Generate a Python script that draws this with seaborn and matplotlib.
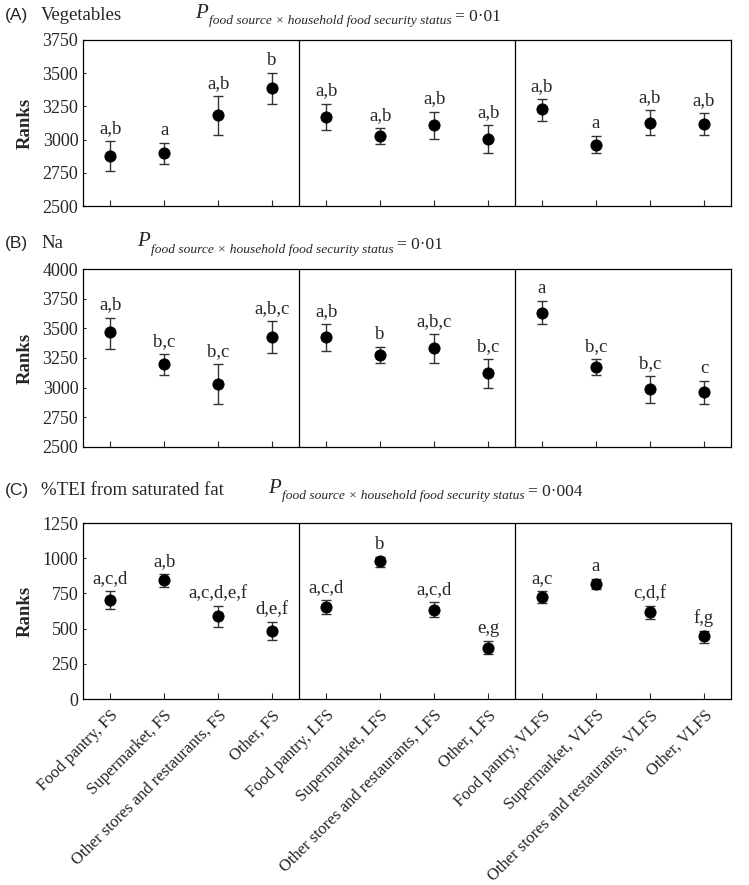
import numpy as np
import pandas as pd
import matplotlib
matplotlib.use('Agg')
import matplotlib.pyplot as plt
import seaborn as sns

categories = ['Food pantry, FS', 'Supermarket, FS', 'Other stores and restaurants, FS', 'Other, FS',
              'Food pantry, LFS', 'Supermarket, LFS', 'Other stores and restaurants, LFS', 'Other, LFS',
              'Food pantry, VLFS', 'Supermarket, VLFS', 'Other stores and restaurants, VLFS', 'Other, VLFS']

# (A) Vegetables
veg_mean = [2880, 2902, 3185, 3390, 3172, 3030, 3112, 3002, 3228, 2962, 3128, 3118]
veg_low = [2765, 2818, 3035, 3270, 3071, 2967, 3005, 2899, 3141, 2899, 3035, 3035]
veg_high = [2990, 2972, 3328, 3502, 3270, 3087, 3210, 3110, 3305, 3025, 3222, 3202]
veg_letters = ['a,b', 'a', 'a,b', 'b', 'a,b', 'a,b', 'a,b', 'a,b', 'a,b', 'a', 'a,b', 'a,b']

# (B) Na
na_mean = [3465, 3200, 3029, 3426, 3426, 3278, 3331, 3124, 3633, 3172, 2987, 2962]
na_low = [3328, 3104, 2858, 3295, 3311, 3208, 3208, 2998, 3535, 3104, 2872, 2864]
na_high = [3591, 3285, 3200, 3563, 3535, 3342, 3451, 3242, 3729, 3242, 3099, 3057]
na_letters = ['a,b', 'b,c', 'b,c', 'a,b,c', 'a,b', 'b', 'a,b,c', 'b,c', 'a', 'b,c', 'b,c', 'c']

# (C) %TEI from saturated fat
sfa_mean = [705, 845, 587, 485, 656, 978, 635, 365, 727, 817, 616, 445]
sfa_low = [639, 795, 511, 423, 604, 938, 582, 320, 682, 781, 566, 402]
sfa_high = [765, 888, 661, 549, 703, 1009, 689, 415, 769, 852, 661, 485]
sfa_letters = ['a,c,d', 'a,b', 'a,c,d,e,f', 'd,e,f', 'a,c,d', 'b', 'a,c,d', 'e,g', 'a,c', 'a', 'c,d,f', 'f,g']

panels = [
    ('(A)', 'Vegetables', '0·01', veg_mean, veg_low, veg_high, veg_letters, (2500, 3750), [2500, 2750, 3000, 3250, 3500, 3750]),
    ('(B)', 'Na', '0·01', na_mean, na_low, na_high, na_letters, (2500, 4000), [2500, 2750, 3000, 3250, 3500, 3750, 4000]),
    ('(C)', '%TEI from saturated fat', '0·004', sfa_mean, sfa_low, sfa_high, sfa_letters, (0, 1250), [0, 250, 500, 750, 1000, 1250]),
]

sns.set_style('ticks')
plt.rcParams['font.family'] = ['Liberation Serif', 'DejaVu Serif']
plt.rcParams['font.size'] = 12

fig = plt.figure(figsize=(7.49, 8.85), dpi=100)
renderer = fig.canvas.get_renderer()
boxes = [(0.111, 0.767, 0.865, 0.188), (0.111, 0.495, 0.865, 0.201), (0.111, 0.210, 0.865, 0.199)]
ptext_x = [0.260, 0.183, 0.358]
title_y = [0.983, 0.725, 0.446]
sub = 'food source \u00d7 household food security status'

for i, (tag, name, pval, mean, low, high, letters, ylim, yticks) in enumerate(panels):
    ax = fig.add_axes(boxes[i])
    df = pd.DataFrame({'cat': categories, 'mean': mean, 'low': low, 'high': high, 'lab': letters})
    x = np.arange(len(df))
    ax.errorbar(x, df['mean'], yerr=[df['mean'] - df['low'], df['high'] - df['mean']],
                fmt='none', ecolor='#333333', elinewidth=1, capsize=3.5, capthick=1, zorder=2)
    sns.scatterplot(x=x, y=df['mean'], ax=ax, color='black', s=65, edgecolor='black', zorder=3, legend=False)
    for xi, hi, lab in zip(x, df['high'], df['lab']):
        ax.annotate(lab, (xi, hi), xytext=(0, 3), textcoords='offset points',
                    ha='center', va='bottom', fontsize=13.5)
    for sep in [3.5, 7.5]:
        ax.axvline(sep, color='black', lw=0.9)
    ax.set_xlim(-0.5, 11.5)
    ax.set_ylim(*ylim)
    ax.set_yticks(yticks)
    ax.set_xticks(x)
    ax.tick_params(axis='x', direction='in', length=4, width=0.8, pad=6)
    ax.tick_params(axis='y', direction='in', length=2, width=0.8, labelsize=13)
    for s in ax.spines.values():
        s.set_linewidth(0.9)
        s.set_color('black')
    ax.set_ylabel('Ranks', fontsize=13.5, fontweight='bold', labelpad=6)
    ax.set_xlabel('')
    if i < 2:
        ax.set_xticklabels([])
    else:
        ax.set_xticklabels(categories, rotation=45, ha='right', rotation_mode='anchor', fontsize=12)

    ty = title_y[i]
    fig.text(0.007, ty, tag, fontsize=12.5, family='Liberation Sans', va='center')
    fig.text(0.055, ty, name, fontsize=13.5, va='center')
    # P with subscript and p-value, laid out piece by piece
    tp = fig.text(ptext_x[i], ty + 0.002, 'P', fontsize=15, style='italic', va='center')
    bb = tp.get_window_extent(renderer)
    x1 = bb.x1 / fig.bbox.width + 0.002
    ts = fig.text(x1, ty - 0.007, sub, fontsize=9.7, style='italic', va='center')
    bb = ts.get_window_extent(renderer)
    x2 = bb.x1 / fig.bbox.width + 0.004
    fig.text(x2, ty - 0.002, '= ' + pval, fontsize=12.5, va='center')

fig.savefig('out.png', dpi=100)
